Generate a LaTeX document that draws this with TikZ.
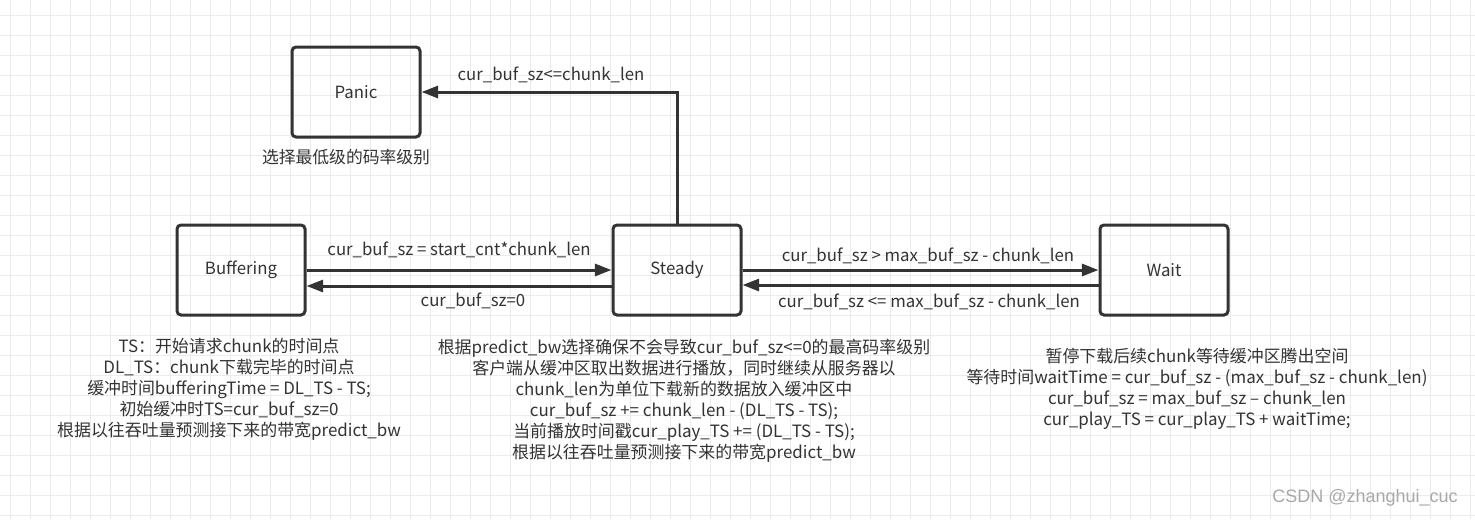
\documentclass[tikz,border=0pt]{standalone}
\usepackage{fontspec}
\setmainfont{Noto Sans CJK SC}
\newfontfamily\wmfont{Liberation Sans}
\usetikzlibrary{arrows.meta,calc}
\definecolor{ink}{HTML}{333333}
\definecolor{gridc}{HTML}{EBEBEB}
\definecolor{wmc}{HTML}{A8A8A8}
\begin{document}
\begin{tikzpicture}[x=0.75pt,y=-0.75pt,
  statebox/.style={draw=ink, line width=2.25pt, rounded corners=3pt, minimum width=96pt, minimum height=67.5pt, text=ink, font=\fontsize{12.6}{15}\selectfont, inner sep=0pt},
  arr/.style={draw=ink, line width=2.25pt, -{Triangle[length=12.5pt,width=9pt]}},
  lbl/.style={text=ink, font=\fontsize{12.6}{15}\selectfont, inner sep=0pt},
  note/.style={text=ink, align=center, font=\fontsize{12.7}{15.75}\selectfont, inner sep=0pt}]
\fill[white] (0,0) rectangle (1475,519);
\useasboundingbox (0,0) rectangle (1475,519);
\foreach \x in {10,30,...,1470} \draw[gridc, line width=0.75pt] (\x,0) -- (\x,519);
\foreach \y in {15,35,...,515} \draw[gridc, line width=0.75pt] (0,\y) -- (1475,\y);

\node[statebox] (panic) at (356,92) {Panic};
\node[statebox] (buf) at (241,270) {Buffering};
\node[statebox] (steady) at (677,270) {Steady};
\node[statebox] (wait) at (1164,270) {Wait};

\draw[arr] (steady.north) |- (panic.east);
\draw[arr] (buf.east) -- (steady.west);
\draw[arr] ($(steady.west)+(0,16)$) -- ($(buf.east)+(0,16)$);
\draw[arr] (steady.east) -- (wait.west);
\draw[arr] ($(wait.west)+(0,15)$) -- ($(steady.east)+(0,15)$);

\node[lbl] (l1) at (551,75) {cur\_buf\_sz<=chunk\_len};
\node[lbl] (l2) at (459,250) {cur\_buf\_sz = start\_cnt*chunk\_len};
\node[lbl] (l3) at (473,301) {cur\_buf\_sz=0};
\node[lbl] (l4) at (928,256) {cur\_buf\_sz > max\_buf\_sz - chunk\_len};
\node[lbl] (l5) at (929,302) {cur\_buf\_sz <= max\_buf\_sz - chunk\_len};

\node[lbl] (npanic) at (346,157) {选择最低级的码率级别};
\node[note] (nbuf) at (229,389) {TS：开始请求chunk的时间点\\
DL\_TS：chunk下载完毕的时间点\\
缓冲时间bufferingTime = DL\_TS - TS;\\
初始缓冲时TS=cur\_buf\_sz=0\\
根据以往吞吐量预测接下来的带宽predict\_bw};
\node[note] (nsteady) at (684,401) {根据predict\_bw选择确保不会导致cur\_buf\_sz<=0的最高码率级别\\
客户端从缓冲区取出数据进行播放，同时继续从服务器以\\
chunk\_len为单位下载新的数据放入缓冲区中\\
cur\_buf\_sz += chunk\_len - (DL\_TS - TS);\\
当前播放时间戳cur\_play\_TS += (DL\_TS - TS);\\
根据以往吞吐量预测接下来的带宽predict\_bw};
\node[note] (nwait) at (1197,389) {暂停下载后续chunk等待缓冲区腾出空间\\
等待时间waitTime = cur\_buf\_sz - (max\_buf\_sz - chunk\_len)\\
cur\_buf\_sz = max\_buf\_sz – chunk\_len\\
cur\_play\_TS = cur\_play\_TS + waitTime;};

\node[text=wmc, font=\wmfont\fontsize{13.5}{16}\selectfont, inner sep=0pt] (wm) at (1365,498) {CSDN @zhanghui\_cuc};
\end{tikzpicture}
\end{document}
